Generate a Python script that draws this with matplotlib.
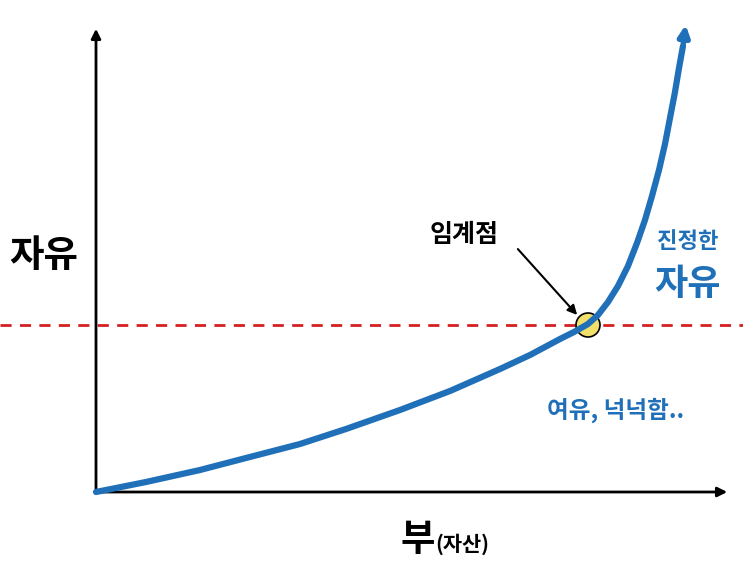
import matplotlib
matplotlib.use("Agg")
import matplotlib.pyplot as plt
from matplotlib.patches import Circle

plt.rcParams['font.family'] = ['Noto Sans CJK KR', 'DejaVu Sans']

wealth = [0, 50, 104, 150, 204, 250, 304, 354, 404, 434, 464, 478, 492, 502, 512, 522, 532, 541, 549, 556, 563, 569, 574, 579, 583, 587, 590]
freedom = [0, 10, 22, 34, 48, 63, 82, 101, 123, 137, 153, 160, 168, 177, 190, 206, 226, 249, 272, 296, 322, 348, 374, 400, 424, 446, 466]
threshold = 167
crit_x = 492
blue = '#1f70b8'

fig = plt.figure(figsize=(7.43, 5.66), dpi=100)
ax = fig.add_axes([0, 0, 1, 1])
ax.set_xlim(-96, 647)
ax.set_ylim(-74, 492)
ax.axis('off')

ax.annotate('', xy=(634, 0), xytext=(0, 0),
            arrowprops=dict(arrowstyle='-|>', color='black', lw=2, mutation_scale=14))
ax.annotate('', xy=(0, 466), xytext=(0, 0),
            arrowprops=dict(arrowstyle='-|>', color='black', lw=2, mutation_scale=14))

ax.axhline(threshold, color='#d42020', lw=2, ls=(0, (4, 3)))
ax.add_patch(Circle((crit_x, threshold), 12, facecolor='#f2e06a', edgecolor='black', lw=1.2, zorder=3))
ax.plot(wealth[:-1], freedom[:-1], color=blue, lw=4.5, solid_capstyle='round', solid_joinstyle='round', zorder=4)
ax.annotate('', xy=(wealth[-1], freedom[-1] + 4), xytext=(wealth[-2], freedom[-2]),
            arrowprops=dict(arrowstyle='-|>', color=blue, lw=4, mutation_scale=16), zorder=4)

ax.annotate('', xy=(crit_x - 9, threshold + 8), xytext=(420, 245),
            arrowprops=dict(arrowstyle='-|>', color='black', lw=1.5, mutation_scale=14), zorder=6)

ax.text(-52, 237, '자유', fontsize=27, fontweight='bold', ha='center', va='center')
ax.text(368, 257, '임계점', fontsize=18, fontweight='bold', ha='center', va='center')
ax.text(592, 250, '진정한', fontsize=16, fontweight='bold', color=blue, ha='center', va='center')
ax.text(592, 207, '자유', fontsize=26, fontweight='bold', color=blue, ha='center', va='center')
ax.text(520, 82, '여유, 넉넉함..', fontsize=17, fontweight='bold', color=blue, ha='center', va='center')
ax.text(322, -48, '부', fontsize=27, fontweight='bold', ha='center', va='center')
ax.text(366, -52, '(자산)', fontsize=15, fontweight='bold', ha='center', va='center')

fig.savefig('out.png', dpi=100)
